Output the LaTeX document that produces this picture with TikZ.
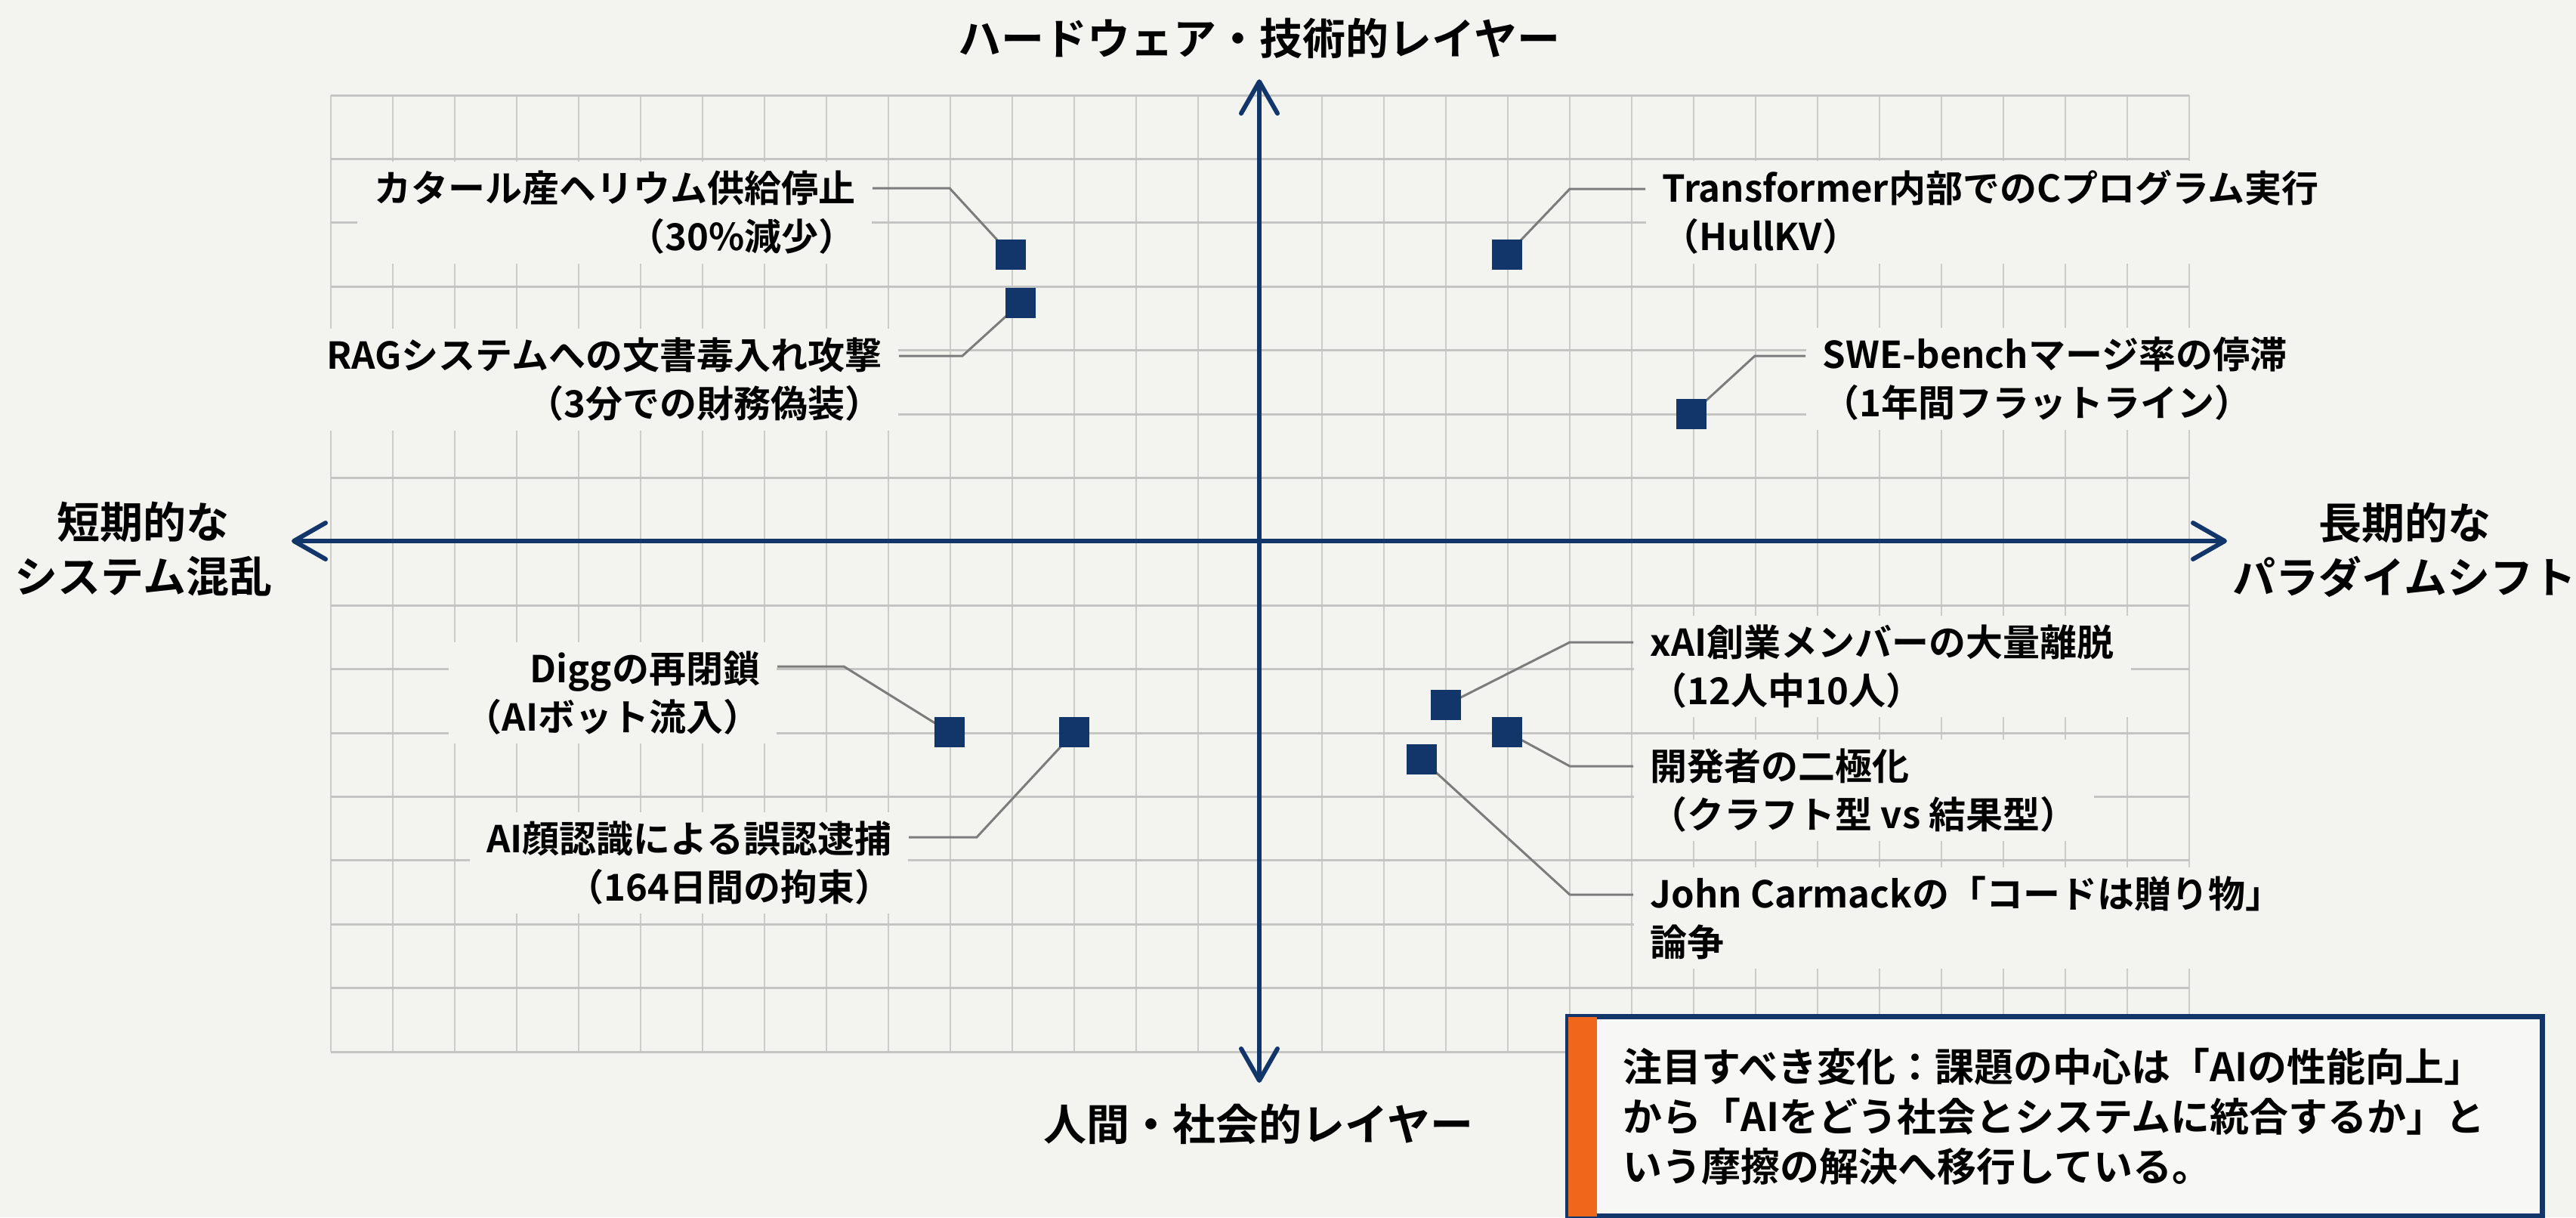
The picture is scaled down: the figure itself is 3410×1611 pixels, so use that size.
\documentclass[tikz,border=0pt]{standalone}
\usepackage{fontspec}
\setmainfont{Noto Sans CJK JP}[BoldFont={Noto Sans CJK JP Bold}]
\usetikzlibrary{arrows.meta}
\definecolor{bgc}{HTML}{F3F3EF}
\definecolor{navy}{HTML}{12366A}
\definecolor{gridh}{HTML}{C4C4C2}
\definecolor{gridv}{HTML}{CBCBC9}
\definecolor{leader}{HTML}{7C7C7C}
\definecolor{orng}{HTML}{F0661A}
\definecolor{boxbg}{HTML}{F7F7F5}
\pgfdeclarelayer{back}
\pgfdeclarelayer{mid}
\pgfsetlayers{back,mid,main}
\begin{document}
\begin{tikzpicture}[x=0.25pt,y=-0.25pt,
  marksq/.style={fill=navy, draw=none, minimum size=10pt, inner sep=0pt},
  lblbase/.style={fill=bgc, inner xsep=5.5pt, inner ysep=3pt,
    font=\fontsize{12.25}{16}\selectfont\bfseries},
  lblL/.style={lblbase, align=right, anchor=east},
  lblR/.style={lblbase, align=left, anchor=west},
  axlbl/.style={align=center, inner sep=0pt,
    font=\fontsize{14.25}{18}\selectfont\bfseries},
  leadline/.style={draw=leader, line width=0.75pt},
  axisline/.style={draw=navy, line width=1.5pt,
    {Straight Barb[length=10.5pt,width=12pt,round]}-{Straight Barb[length=10.5pt,width=12pt,round]}},
  gridlineh/.style={draw=gridh, line width=0.75pt},
  gridlinev/.style={draw=gridv, line width=0.5pt},
  callbox/.style={draw=navy, line width=1.75pt, fill=boxbg, inner sep=0pt}
]
\useasboundingbox (0,0) rectangle (3410,1611);
\begin{pgfonlayer}{back}
  \fill[bgc] (0,0) rectangle (3410,1611);
  \foreach \i in {0,...,30} \draw[gridlinev] (438+82*\i,126) -- (438+82*\i,1392);
  \foreach \j in {0,...,15} \draw[gridlineh] (438,126+84.4*\j) -- (2898,126+84.4*\j);
\end{pgfonlayer}

% axes
\coordinate (axL) at (386,716);
\coordinate (axR) at (2948,716);
\coordinate (axT) at (1667,105);
\coordinate (axB) at (1667,1433);
\draw[axisline] (axL) -- (axR);
\draw[axisline] (axT) -- (axB);

% axis titles
\node[axlbl] (tT) at (1667,51) {ハードウェア・技術的レイヤー};
\node[axlbl] (tB) at (1666,1488) {人間・社会的レイヤー};
\node[axlbl] (tL) at (190,727) {短期的な\\システム混乱};
\node[axlbl] (tR) at (3183,727.5) {長期的な\\パラダイムシフト};

% labels
\node[lblL] (l1) at (1155,281.5) {カタール産ヘリウム供給停止\\（30\%減少）};
\node[lblL] (l2) at (1190,502.5) {RAGシステムへの文書毒入れ攻撃\\（3分での財務偽装）};
\node[lblL] (l3) at (1029,917) {Diggの再閉鎖\\（AIボット流入）};
\node[lblL] (l4) at (1203,1142) {AI顔認識による誤認逮捕\\（164日間の拘束）};
\node[lblR] (r1) at (2178,281) {Transformer内部でのCプログラム実行\\（HullKV）};
\node[lblR] (r2) at (2390,501.5) {SWE-benchマージ率の停滞\\（1年間フラットライン）};
\node[lblR] (r3) at (2162,882) {xAI創業メンバーの大量離脱\\（12人中10人）};
\node[lblR] (r4) at (2162,1046) {開発者の二極化\\（クラフト型 vs 結果型）};
\node[lblR] (r5) at (2162,1215) {John Carmackの「コードは贈り物」\\論争};

% squares
\node[marksq] (s1) at (1338,337) {};
\node[marksq] (s2) at (1351,401) {};
\node[marksq] (s3) at (1257,969) {};
\node[marksq] (s4) at (1422,969) {};
\node[marksq] (q1) at (1995,337) {};
\node[marksq] (q2) at (2239,548) {};
\node[marksq] (q3) at (1914,933) {};
\node[marksq] (q4) at (1995,969) {};
\node[marksq] (q5) at (1882,1005) {};

% bends
\coordinate (b1) at (1257,249);
\coordinate (b2) at (1274,471);
\coordinate (b3) at (1117,882);
\coordinate (b4) at (1293,1108);
\coordinate (c1) at (2078,250);
\coordinate (c2) at (2323,471);
\coordinate (c3) at (2078,850);
\coordinate (c4) at (2078,1014);
\coordinate (c5) at (2078,1184);

\begin{pgfonlayer}{mid}
  \draw[leadline] (s1.center) -- (b1) -- (l1.east |- b1);
  \draw[leadline] (s2.center) -- (b2) -- (l2.east |- b2);
  \draw[leadline] (s3.center) -- (b3) -- (l3.east |- b3);
  \draw[leadline] (s4.center) -- (b4) -- (l4.east |- b4);
  \draw[leadline] (q1.center) -- (c1) -- (r1.west |- c1);
  \draw[leadline] (q2.center) -- (c2) -- (r2.west |- c2);
  \draw[leadline] (q3.center) -- (c3) -- (r3.west |- c3);
  \draw[leadline] (q4.center) -- (c4) -- (r4.west |- c4);
  \draw[leadline] (q5.center) -- (c5) -- (r5.west |- c5);
\end{pgfonlayer}

% callout
\node[callbox, anchor=north west, minimum width=322.5pt, minimum height=66pt] (cb) at (2072,1342) {};
\fill[orng] ([xshift=0.875pt,yshift=-0.875pt]cb.north west) rectangle ([xshift=10.5pt,yshift=0.875pt]cb.south west);
\node[anchor=west, align=left, inner sep=0pt,
  font=\fontsize{13}{16.5}\selectfont\bfseries] (ct) at (2148,1477.5)
  {注目すべき変化：課題の中心は「AIの性能向上」\\から「AIをどう社会とシステムに統合するか」と\\いう摩擦の解決へ移行している。};
\end{tikzpicture}
\end{document}
